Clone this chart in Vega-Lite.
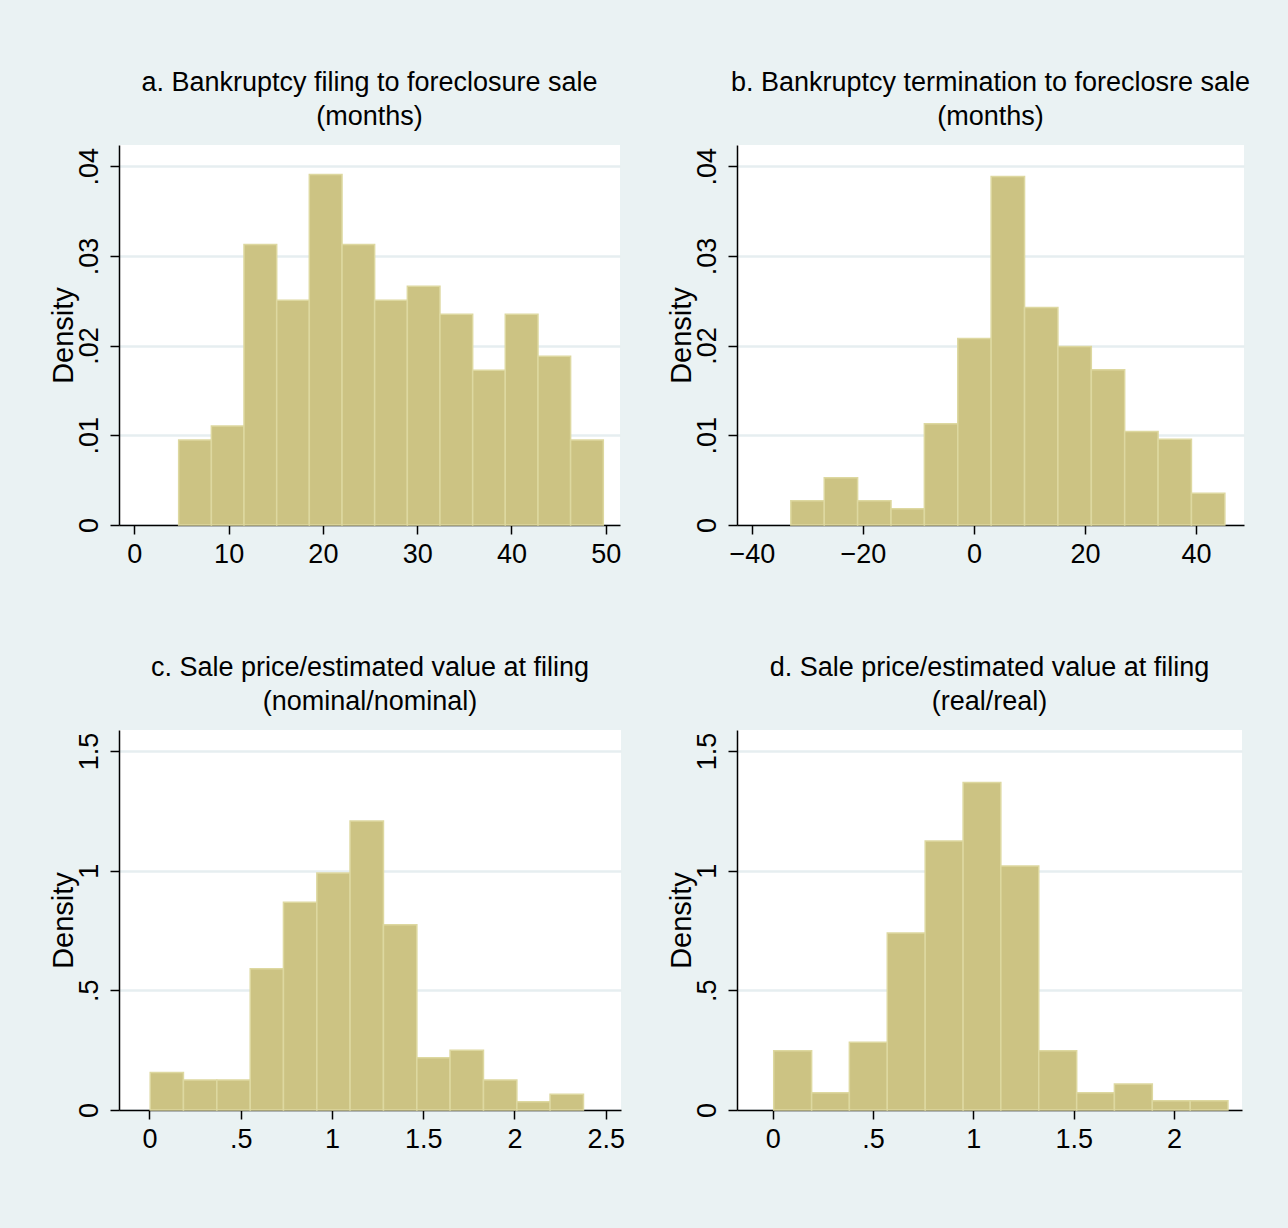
{
  "$schema": "https://vega.github.io/schema/vega-lite/v6.json",
  "background": "#EAF2F3",
  "autosize": {"type": "none"},
  "padding": {"left": 119, "top": 145, "right": 1169, "bottom": 1083},
  "bounds": "flush",
  "columns": 2,
  "spacing": {"row": 205, "column": 116},
  "datasets": {
    "a": [
      {"start": 4.70, "end": 8.17, "density": 0.00948},
      {"start": 8.17, "end": 11.63, "density": 0.01104},
      {"start": 11.63, "end": 15.10, "density": 0.03126},
      {"start": 15.10, "end": 18.56, "density": 0.02506},
      {"start": 18.56, "end": 22.03, "density": 0.03907},
      {"start": 22.03, "end": 25.49, "density": 0.03126},
      {"start": 25.49, "end": 28.96, "density": 0.02506},
      {"start": 28.96, "end": 32.42, "density": 0.02662},
      {"start": 32.42, "end": 35.89, "density": 0.02349},
      {"start": 35.89, "end": 39.35, "density": 0.01725},
      {"start": 39.35, "end": 42.82, "density": 0.02349},
      {"start": 42.82, "end": 46.28, "density": 0.01881},
      {"start": 46.28, "end": 49.75, "density": 0.00948}
    ],
    "b": [
      {"start": -33.00, "end": -26.98, "density": 0.00271},
      {"start": -26.98, "end": -20.97, "density": 0.00528},
      {"start": -20.97, "end": -14.95, "density": 0.00271},
      {"start": -14.95, "end": -8.94, "density": 0.00182},
      {"start": -8.94, "end": -2.92, "density": 0.0113},
      {"start": -2.92, "end": 3.09, "density": 0.02078},
      {"start": 3.09, "end": 9.11, "density": 0.03885},
      {"start": 9.11, "end": 15.12, "density": 0.02424},
      {"start": 15.12, "end": 21.14, "density": 0.01989},
      {"start": 21.14, "end": 27.15, "density": 0.01732},
      {"start": 27.15, "end": 33.17, "density": 0.01041},
      {"start": 33.17, "end": 39.18, "density": 0.00955},
      {"start": 39.18, "end": 45.20, "density": 0.00353}
    ],
    "c": [
      {"start": 0.004, "end": 0.186, "density": 0.157},
      {"start": 0.186, "end": 0.369, "density": 0.125},
      {"start": 0.369, "end": 0.552, "density": 0.125},
      {"start": 0.552, "end": 0.734, "density": 0.5905},
      {"start": 0.734, "end": 0.917, "density": 0.8677},
      {"start": 0.917, "end": 1.099, "density": 0.990},
      {"start": 1.099, "end": 1.282, "density": 1.2075},
      {"start": 1.282, "end": 1.465, "density": 0.7744},
      {"start": 1.465, "end": 1.647, "density": 0.2187},
      {"start": 1.647, "end": 1.830, "density": 0.2493},
      {"start": 1.830, "end": 2.013, "density": 0.125},
      {"start": 2.013, "end": 2.195, "density": 0.0348},
      {"start": 2.195, "end": 2.378, "density": 0.0655}
    ],
    "d": [
      {"start": 0.005, "end": 0.194, "density": 0.248},
      {"start": 0.194, "end": 0.382, "density": 0.0724},
      {"start": 0.382, "end": 0.571, "density": 0.2827},
      {"start": 0.571, "end": 0.760, "density": 0.7396},
      {"start": 0.760, "end": 0.949, "density": 1.124},
      {"start": 0.949, "end": 1.137, "density": 1.369},
      {"start": 1.137, "end": 1.326, "density": 1.0195},
      {"start": 1.326, "end": 1.515, "density": 0.248},
      {"start": 1.515, "end": 1.703, "density": 0.0724},
      {"start": 1.703, "end": 1.892, "density": 0.1086},
      {"start": 1.892, "end": 2.081, "density": 0.039},
      {"start": 2.081, "end": 2.269, "density": 0.039}
    ]
  },
  "concat": [
    {
      "width": 501, "height": 380,
      "title": {"text": ["a. Bankruptcy filing to foreclosure sale", "(months)"]},
      "data": {"name": "a"},
      "mark": {"type": "rect", "fill": "#CCC383", "stroke": "#DDD8A0", "strokeWidth": 1.5},
      "encoding": {
        "x": {"field": "start", "type": "quantitative", "scale": {"domain": [-1.63, 51.52], "nice": false, "zero": false},
              "axis": {"title": null, "values": [0, 10, 20, 30, 40, 50]}},
        "x2": {"field": "end"},
        "y": {"field": "density", "type": "quantitative", "scale": {"domain": [0, 0.04236], "nice": false},
              "axis": {"title": "Density", "values": [0, 0.01, 0.02, 0.03, 0.04],
                       "labelExpr": "datum.value == 0 ? '0' : replace('' + datum.value, '0.', '.')"}},
        "y2": {"datum": 0}
      }
    },
    {
      "width": 507, "height": 380,
      "title": {"text": ["b. Bankruptcy termination to foreclosre sale", "(months)"]},
      "data": {"name": "b"},
      "mark": {"type": "rect", "fill": "#CCC383", "stroke": "#DDD8A0", "strokeWidth": 1.5},
      "encoding": {
        "x": {"field": "start", "type": "quantitative", "scale": {"domain": [-42.7, 48.65], "nice": false, "zero": false},
              "axis": {"title": null, "values": [-40, -20, 0, 20, 40]}},
        "x2": {"field": "end"},
        "y": {"field": "density", "type": "quantitative", "scale": {"domain": [0, 0.04236], "nice": false},
              "axis": {"title": "Density", "values": [0, 0.01, 0.02, 0.03, 0.04],
                       "labelExpr": "datum.value == 0 ? '0' : replace('' + datum.value, '0.', '.')"}},
        "y2": {"datum": 0}
      }
    },
    {
      "width": 502, "height": 380,
      "title": {"text": ["c. Sale price/estimated value at filing", "(nominal/nominal)"]},
      "data": {"name": "c"},
      "mark": {"type": "rect", "fill": "#CCC383", "stroke": "#DDD8A0", "strokeWidth": 1.5},
      "encoding": {
        "x": {"field": "start", "type": "quantitative", "scale": {"domain": [-0.1671, 2.5836], "nice": false, "zero": false},
              "axis": {"title": null, "values": [0, 0.5, 1, 1.5, 2, 2.5],
                       "labelExpr": "datum.value == 0.5 ? '.5' : '' + datum.value"}},
        "x2": {"field": "end"},
        "y": {"field": "density", "type": "quantitative", "scale": {"domain": [0, 1.588], "nice": false},
              "axis": {"title": "Density", "values": [0, 0.5, 1, 1.5],
                       "labelExpr": "datum.value == 0.5 ? '.5' : '' + datum.value"}},
        "y2": {"datum": 0}
      }
    },
    {
      "width": 505, "height": 380,
      "title": {"text": ["d. Sale price/estimated value at filing", "(real/real)"]},
      "data": {"name": "d"},
      "mark": {"type": "rect", "fill": "#CCC383", "stroke": "#DDD8A0", "strokeWidth": 1.5},
      "encoding": {
        "x": {"field": "start", "type": "quantitative", "scale": {"domain": [-0.178, 2.339], "nice": false, "zero": false},
              "axis": {"title": null, "values": [0, 0.5, 1, 1.5, 2],
                       "labelExpr": "datum.value == 0.5 ? '.5' : '' + datum.value"}},
        "x2": {"field": "end"},
        "y": {"field": "density", "type": "quantitative", "scale": {"domain": [0, 1.588], "nice": false},
              "axis": {"title": "Density", "values": [0, 0.5, 1, 1.5],
                       "labelExpr": "datum.value == 0.5 ? '.5' : '' + datum.value"}},
        "y2": {"datum": 0}
      }
    }
  ],
  "config": {
    "view": {"fill": "white", "stroke": null},
    "axis": {
      "domainColor": "black", "domainWidth": 1.5,
      "tickColor": "black", "tickWidth": 1.5, "tickSize": 9,
      "labelColor": "black", "titleColor": "black",
      "labelFlush": false, "labelOverlap": false, "grid": false
    },
    "axisX": {
      "labelFont": "Liberation Sans, sans-serif",
      "labelFontSize": 27, "labelPadding": 7
    },
    "axisY": {
      "grid": true, "gridColor": "#E6EEF0", "gridWidth": 2.5,
      "labelFont": "Liberation Sans, sans-serif", "labelFontSize": 27,
      "labelAngle": -90, "labelAlign": "center", "labelBaseline": "alphabetic", "labelPadding": 13,
      "titleFont": "Liberation Sans, sans-serif", "titleFontSize": 29, "titleFontWeight": "normal",
      "titleAngle": -90, "titleAlign": "center", "titleBaseline": "alphabetic",
      "titleX": -47, "titleY": 190
    },
    "title": {
      "font": "Liberation Sans, sans-serif",
      "fontSize": 27, "fontWeight": "normal", "color": "black",
      "anchor": "middle", "frame": "group", "offset": 14, "lineHeight": 34
    }
  }
}
